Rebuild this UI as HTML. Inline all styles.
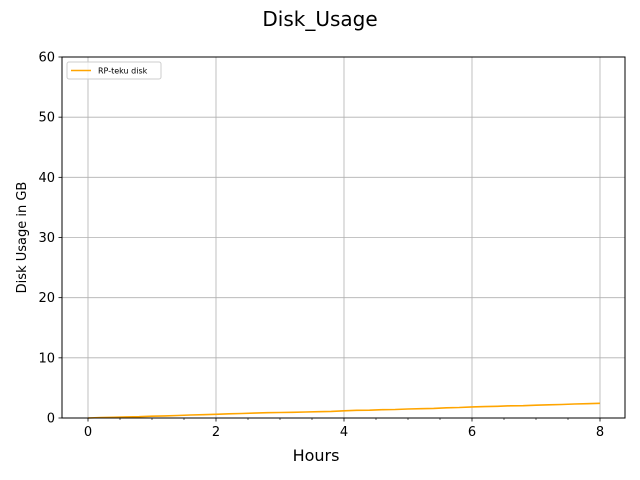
<!DOCTYPE html>
<html><head><meta charset="utf-8"><style>
html,body{margin:0;padding:0;background:#fff;}
svg{display:block;font-family:"DejaVu Sans","Liberation Sans",sans-serif;}
</style></head><body>
<svg id="chart" width="640" height="480" viewBox="0 0 640 480">
<text x="320" y="26" text-anchor="middle" font-size="20" fill="#000">Disk_Usage</text>
<g id="grid"></g>
<g id="series"></g>
<rect x="62" y="57" width="563" height="361" fill="none" stroke="#000" stroke-width="1"/>
<g id="axes"></g>
<text x="316" y="461" text-anchor="middle" font-size="16">Hours</text>
<text transform="translate(26,237.5) rotate(-90)" text-anchor="middle" font-size="13">Disk Usage in GB</text>
<g>
<rect x="67" y="62" width="94" height="17" rx="2" fill="#fff" fill-opacity="0.8" stroke="#ccc"/>
<line x1="71" y1="70.5" x2="91" y2="70.5" stroke="#ffa500" stroke-width="1.5"/>
<text x="98" y="73.5" font-size="8">RP-teku disk</text>
</g>
</svg>
<script>
const xTicks=[0,2,4,6,8];
const yTicks=[0,10,20,30,40,50,60];
const hours=[0,0.2,0.4,0.6,0.8,1.0,1.2,1.4,1.6,1.8,2.0,2.2,2.4,2.6,2.8,3.0,3.2,3.4,3.6,3.8,4.0,4.2,4.4,4.6,4.8,5.0,5.2,5.4,5.6,5.8,6.0,6.2,6.4,6.6,6.8,7.0,7.2,7.4,7.6,7.8,8.0];
const diskGB=[0,0.08,0.12,0.18,0.22,0.3,0.35,0.42,0.5,0.55,0.62,0.7,0.75,0.82,0.88,0.92,0.95,1.0,1.05,1.1,1.2,1.28,1.3,1.38,1.42,1.5,1.55,1.6,1.7,1.75,1.85,1.9,1.95,2.02,2.05,2.12,2.2,2.25,2.32,2.38,2.45];
const NS="http://www.w3.org/2000/svg";
const X0=62,X1=625,Y0=418,Y1=57;
function xs(v){return 88+(v-0)*(600-88)/8;}
function ys(v){return Y0-(v-0)*(Y0-Y1)/60;}
function mk(tag,attrs,parent){const e=document.createElementNS(NS,tag);for(const k in attrs)e.setAttribute(k,attrs[k]);parent.appendChild(e);return e;}
const grid=document.getElementById('grid'),axes=document.getElementById('axes'),series=document.getElementById('series');
xTicks.forEach(t=>{
  const x=xs(t);
  const g=mk('line',{x1:x,y1:Y1,x2:x,y2:Y0,stroke:'#b0b0b0','stroke-width':0.8},grid);
  
  
  const tk=mk('line',{x1:x,y1:Y0,x2:x,y2:Y0+3.5,stroke:'#000','stroke-width':0.8},axes);
  
  
  const lb=mk('text',{x:x,y:Y0+18,'text-anchor':'middle','font-size':13},axes);
  lb.textContent=t;
  
  
});
for(let m=0.5;m<8;m+=0.5){
  if(m%2===0)continue;
  const x=xs(m);
  const tk=mk('line',{x1:x,y1:Y0,x2:x,y2:Y0+2,stroke:'#000','stroke-width':0.6},axes);
  
  
}
yTicks.forEach(t=>{
  const y=ys(t);
  const g=mk('line',{x1:X0,y1:y,x2:X1,y2:y,stroke:'#b0b0b0','stroke-width':0.8},grid);
  
  
  const tk=mk('line',{x1:X0-3.5,y1:y,x2:X0,y2:y,stroke:'#000','stroke-width':0.8},axes);
  
  
  const lb=mk('text',{x:X0-7,y:y+4.5,'text-anchor':'end','font-size':13},axes);
  lb.textContent=t;
  
  
});
const pts=hours.map((h,i)=>xs(h).toFixed(1)+','+ys(diskGB[i]).toFixed(1)).join(' ');
const line=mk('polyline',{points:pts,fill:'none',stroke:'#ffa500','stroke-width':1.6,'stroke-linejoin':'round'},series);


</script>
</body></html>
